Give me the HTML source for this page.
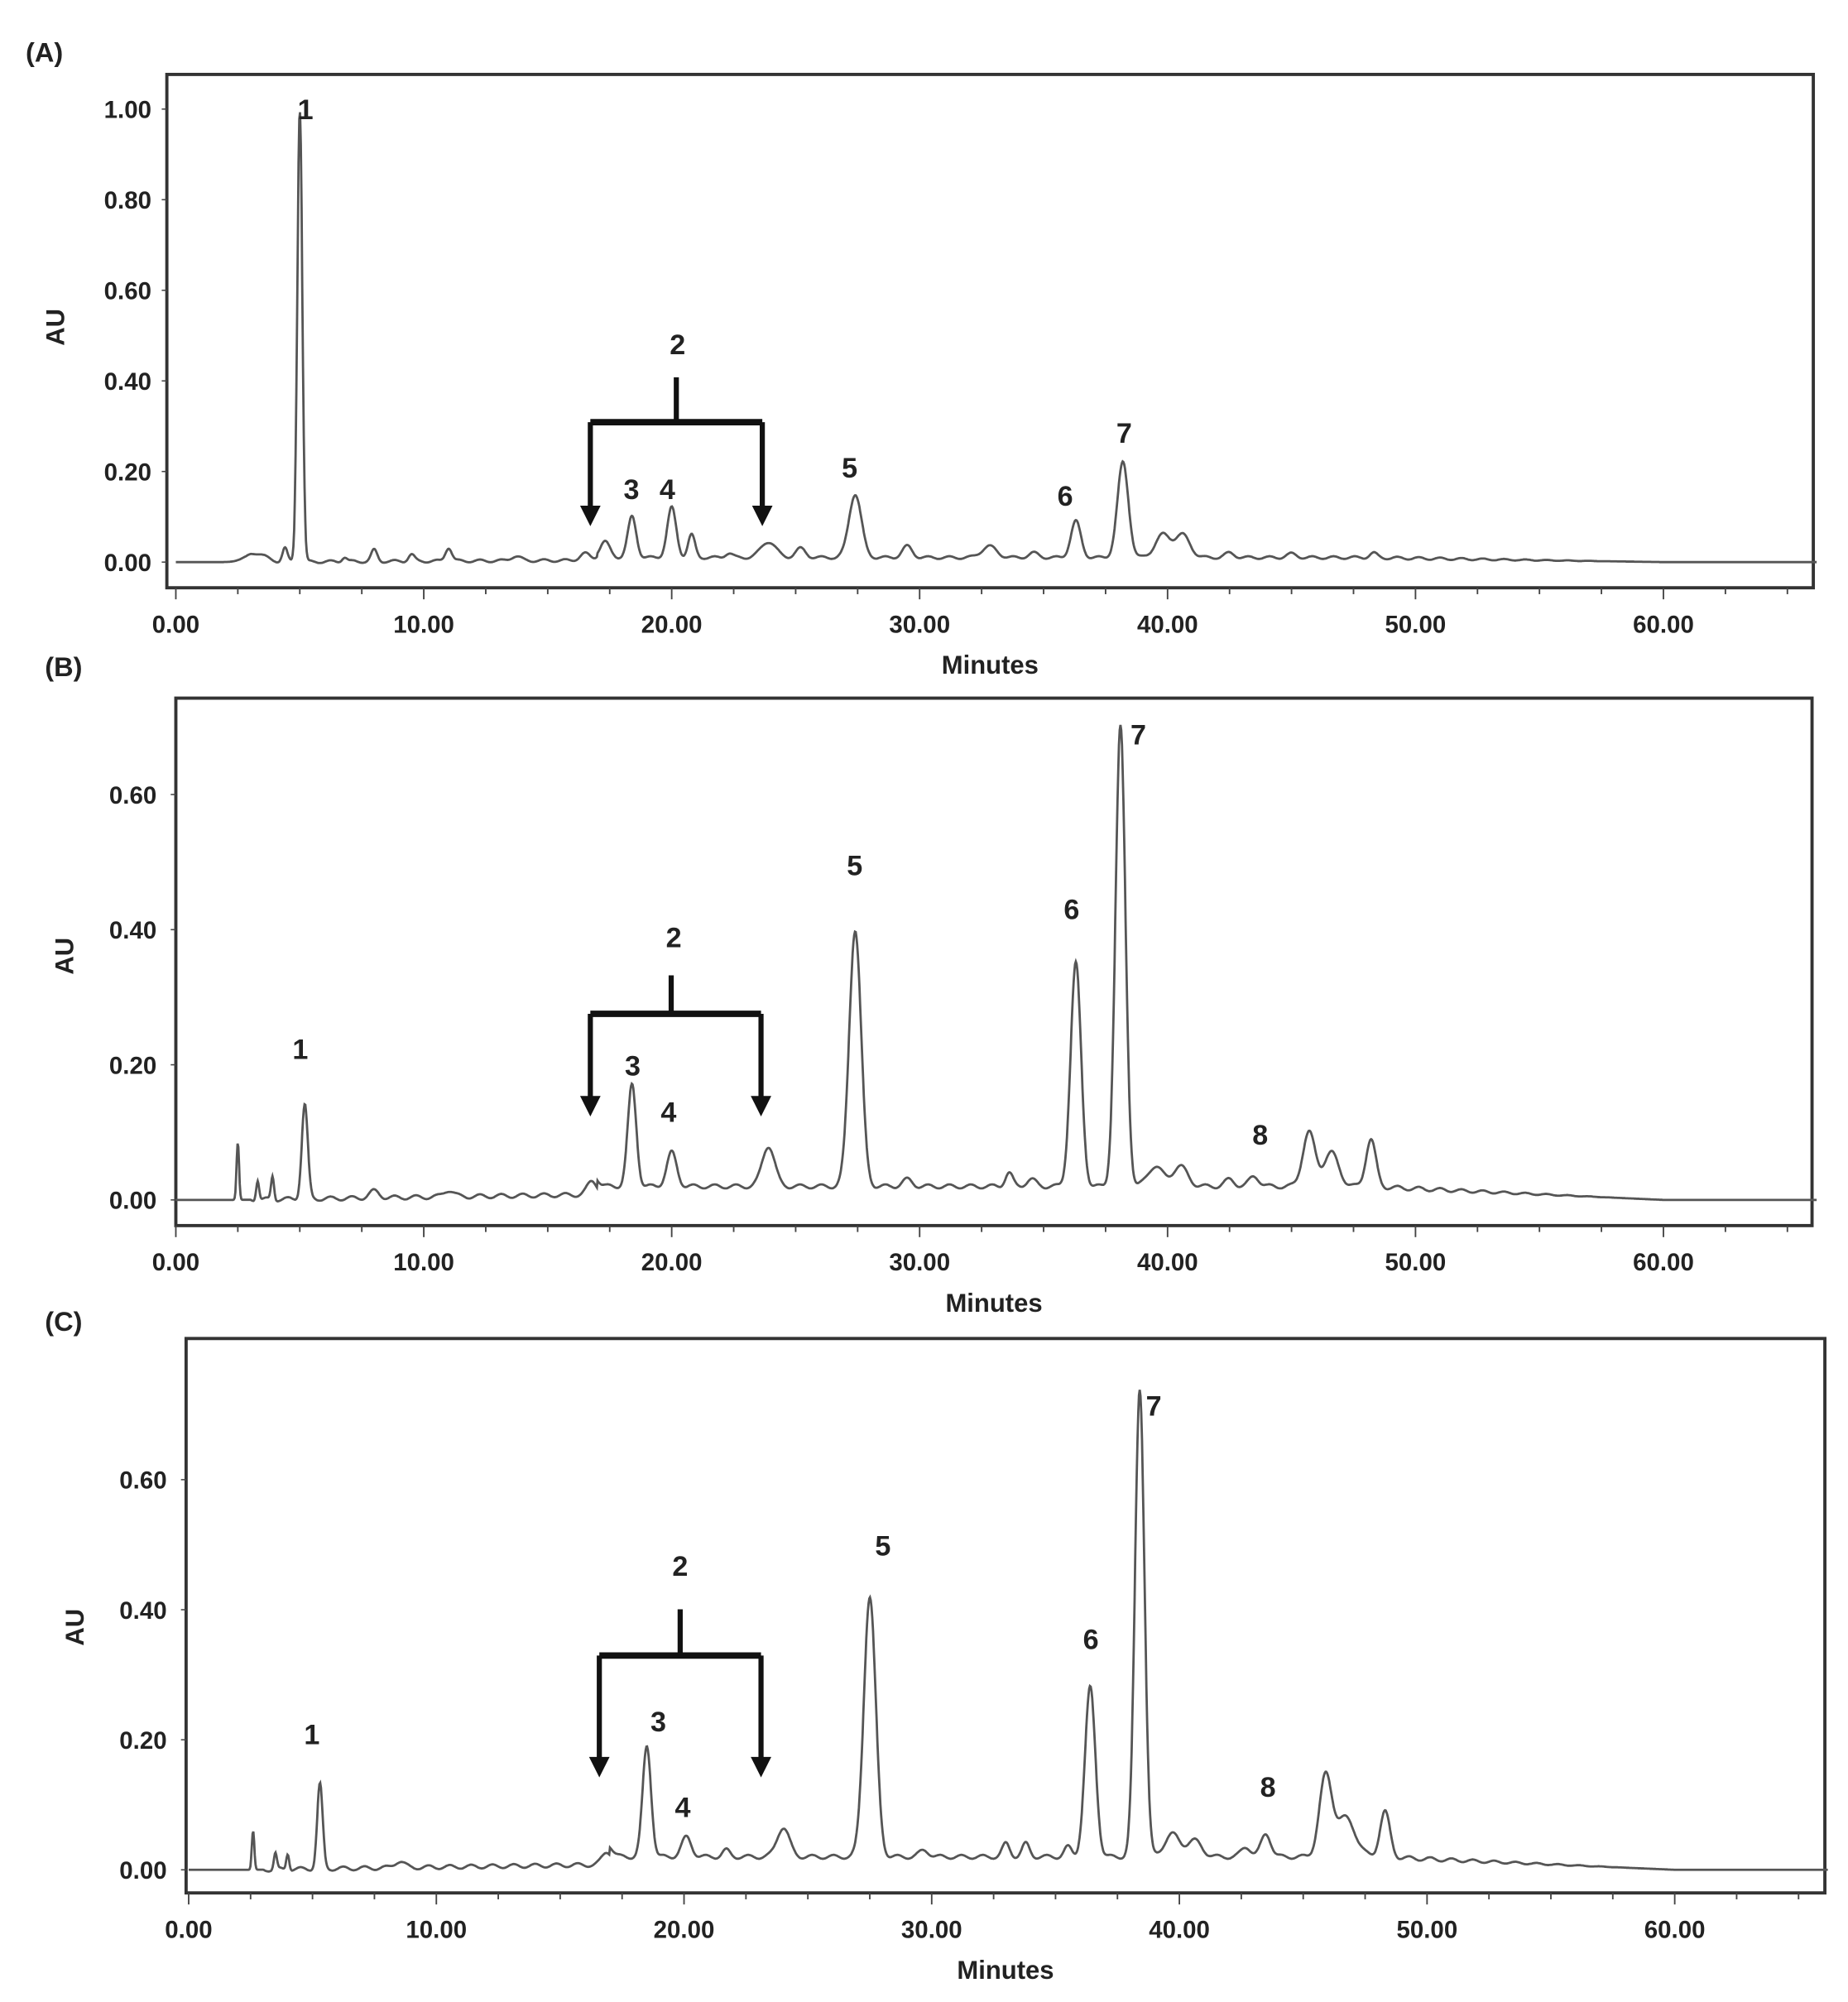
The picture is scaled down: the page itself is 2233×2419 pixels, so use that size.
<!DOCTYPE html>
<html><head><meta charset="utf-8"><style>
html,body{margin:0;padding:0;background:#fff}
svg{display:block}
text{font-family:"Liberation Sans","DejaVu Sans",sans-serif;font-weight:bold;fill:#222}
</style></head><body>
<svg id="s" width="2233" height="2419" viewBox="0 0 1440 1560" xmlns="http://www.w3.org/2000/svg">
<text x="20" y="48" font-size="21">(A)</text>
<text x="35" y="527" font-size="21">(B)</text>
<text x="35" y="1037" font-size="21">(C)</text>
</svg>
<script>
var S=document.getElementById('s'),NS='http://www.w3.org/2000/svg';
function el(n,a,t){var e=document.createElementNS(NS,n);for(var k in a)e.setAttribute(k,a[k]);if(t!==undefined)e.textContent=t;S.appendChild(e);return e;}
function panel(P){
 var X=function(t){return P.x0+t*P.sx},Y=function(v){return P.y0-v*P.sy};
 el('rect',{x:P.L,y:P.T,width:P.R-P.L,height:P.B-P.T,fill:'none',stroke:'#333','stroke-width':2.5});
 for(var t=0;t<=66;t+=2.5){var big=(t%10==0);el('line',{x1:X(t),x2:X(t),y1:P.B,y2:P.B+(big?9:5),stroke:'#444','stroke-width':1.2});}
 for(var t=0;t<=60;t+=10)el('text',{x:X(t),y:P.B+35,'font-size':19,'text-anchor':'middle'},t.toFixed(2));
 el('text',{x:(P.L+P.R)/2,y:P.B+67,'font-size':20,'text-anchor':'middle'},'Minutes');
 for(var v=0;v<=P.ymax+1e-9;v+=0.2){el('text',{x:P.lx,y:Y(v)+7,'font-size':19,'text-anchor':'end'},v.toFixed(2));el('line',{x1:P.L-4,x2:P.L,y1:Y(v),y2:Y(v),stroke:'#444'});}
 el('text',{x:0,y:0,'font-size':20,'text-anchor':'middle',transform:'translate('+(P.L-80)+','+P.auy+') rotate(-90)'},'AU');
 var d='';
 for(var t=0;t<=66.2;t+=0.03){
  var v=0;
  if(t>2.5&&t<60){var b=P.base;v+=t<17?b*0.4*(t-2.5)/14.5:(t<48?b:b*Math.max(0,(60-t)/12));}
  P.pk.forEach(function(p){var s=p[2]||0.15;var z=(t-p[0])/s;if(Math.abs(z)<6)v+=p[1]*Math.exp(-z*z/2);});
  var f=t<3?0:(t<50?1:Math.max(0,(58-t)/8));
  v+=0.003*Math.sin(t*7.3)*f;
  d+=(d?'L':'M')+X(t).toFixed(1)+' '+Y(v).toFixed(1);
 }
 el('path',{d:d,fill:'none',stroke:'#555','stroke-width':1.8});
 P.lab.forEach(function(l){el('text',{x:l[1],y:l[2],'font-size':22,'text-anchor':'middle'},l[0]);});
 var b=P.br;
 el('line',{x1:b[0],x2:b[0],y1:b[1],y2:b[2],stroke:'#111','stroke-width':4});
 el('line',{x1:b[3],x2:b[4],y1:b[2],y2:b[2],stroke:'#111','stroke-width':5});
 [b[3],b[4]].forEach(function(x){el('line',{x1:x,x2:x,y1:b[2],y2:b[5]-14,stroke:'#111','stroke-width':4});el('polygon',{points:(x-8)+','+(b[5]-16)+' '+(x+8)+','+(b[5]-16)+' '+x+','+b[5],fill:'#111'});});
}
panel({L:130,R:1413,T:58,B:458,x0:137,sx:19.32,y0:438,sy:353,ymax:1.0,lx:118,auy:255,base:0.01,
 pk:[[3.2,.02,.4],[4.4,.03,.1],[5.0,1.0,.1],[6.8,.01,.1],[8.0,.025,.12],[9.5,.015,.12],[11.0,.03,.13],[13.7,.01,.2],[16.5,.015,.2],[17.3,.035,.2],[18.4,.09,.17],[20.0,.11,.18],[20.8,.05,.14],[22.3,.01,.15],[23.9,.035,.3],[25.2,.02,.2],[27.4,.14,.25],[29.5,.025,.2],[32.8,.025,.3],[34.6,.01,.2],[36.3,.08,.2],[38.2,.21,.22],[39.8,.05,.3],[40.6,.05,.3],[42.5,.01,.2],[45,.008,.2],[48.3,.01,.15]],
 lab:[['1',238,93],['2',528,276],['3',492,389],['4',520,389],['5',662,372],['6',830,394],['7',876,345]],
 br:[527,294,329,460,594,410]});
panel({L:137,R:1412,T:544,B:955,x0:137,sx:19.32,y0:935,sy:526.5,ymax:0.6,lx:122,auy:745,base:0.02,
 pk:[[2.5,.085,.05],[3.3,.03,.06],[3.9,.035,.06],[5.2,.14,.12],[8,.01,.2],[11,.01,.2],[16.8,.02,.2],[18.4,.15,.17],[20.0,.05,.2],[23.9,.06,.25],[27.4,.38,.24],[29.5,.01,.2],[33.6,.02,.15],[34.5,.01,.2],[36.3,.33,.21],[38.1,.68,.2],[39.5,.03,.3],[40.5,.03,.3],[42.5,.01,.2],[43.5,.015,.2],[45.7,.08,.25],[46.6,.05,.3],[48.2,.07,.2]],
 lab:[['1',234,825],['2',525,738],['3',493,838],['4',521,874],['5',666,682],['6',835,716],['7',887,580],['8',982,892]],
 br:[523,760,790,460,593,870]});
panel({L:145,R:1422,T:1043,B:1475,x0:147,sx:19.3,y0:1457,sy:506.7,ymax:0.6,lx:130,auy:1268,base:0.02,
 pk:[[2.6,.06,.05],[3.5,.025,.06],[4.0,.025,.06],[5.3,.13,.11],[8.5,.01,.2],[16.9,.02,.2],[18.5,.17,.17],[20.1,.03,.2],[21.7,.01,.15],[24.0,.045,.25],[27.5,.4,.24],[29.7,.01,.2],[33,.02,.15],[33.8,.02,.15],[35.5,.015,.15],[36.4,.26,.21],[38.4,.72,.19],[39.7,.035,.3],[40.6,.025,.3],[42.7,.015,.2],[43.5,.035,.2],[45.9,.12,.25],[46.7,.06,.4],[48.3,.07,.2]],
 lab:[['1',243,1359],['2',530,1228],['3',513,1349],['4',532,1416],['5',688,1212],['6',850,1285],['7',899,1103],['8',988,1400]],
 br:[530,1254,1290,467,593,1385]});
</script>
</body></html>
